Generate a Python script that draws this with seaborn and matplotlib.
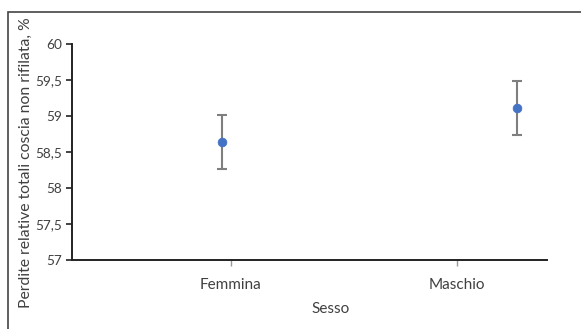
import matplotlib
matplotlib.use("Agg")
import matplotlib.pyplot as plt
import seaborn as sns
import pandas as pd
from matplotlib.patches import Rectangle
from matplotlib.ticker import FuncFormatter

categories = ["Femmina", "Maschio"]
means = [58.64, 59.11]
errors = [0.37, 0.37]
y_ticks = [57, 57.5, 58, 58.5, 59, 59.5, 60]

sns.set_theme(style="white")
plt.rcParams['font.family'] = ['Lato', 'DejaVu Sans']

df = pd.DataFrame({"Sesso": categories, "mean": means, "err": errors})

fig = plt.figure(figsize=(5.81, 3.29), dpi=100)
ax = fig.add_axes([0.124, 0.210, 0.817, 0.656])

pos = list(range(len(categories)))
ax.errorbar(pos, df["mean"], yerr=df["err"], fmt="none", ecolor="#7f7f7f",
            elinewidth=1.5, capsize=3.5, capthick=1.5, zorder=2)
sns.scatterplot(x=pos, y=df["mean"], ax=ax, color="#4472C4", s=40,
                edgecolor="#4472C4", zorder=3, legend=False)

ax.set_xlim(-0.509, 1.101)
ax.set_ylim(57, 60)
ax.set_yticks(y_ticks)
ax.yaxis.set_major_formatter(FuncFormatter(lambda v, p: (f"{v:g}").replace(".", ",")))
ax.set_xticks([0.03, 0.795])
ax.set_xticklabels(categories)

for s in ["top", "right"]:
    ax.spines[s].set_visible(False)
for s in ["left", "bottom"]:
    ax.spines[s].set_color("#222222")
    ax.spines[s].set_linewidth(1.4)

ax.tick_params(axis="y", which="major", left=True, length=4, width=1.2,
               color="#222222", labelsize=9.8, labelcolor="#404040", pad=3)
ax.tick_params(axis="x", which="major", bottom=True, length=4, width=1,
               color="#999999", labelsize=11, labelcolor="#404040", pad=9)

ax.set_xlabel("Sesso", fontsize=11, color="#404040", labelpad=2)
ax.set_ylabel("Perdite relative totali coscia non rifilata, %", fontsize=11.3,
              color="#404040")
ax.yaxis.set_label_coords(-0.082, 0.45)
ax.xaxis.set_label_coords(0.545, -0.195)

fig.patches.append(Rectangle((8/581, -0.1), 1.2, 1 - 12/329 + 0.1,
                             transform=fig.transFigure, fill=False,
                             edgecolor="#444444", linewidth=1.2))

fig.savefig("out.png", dpi=100)
